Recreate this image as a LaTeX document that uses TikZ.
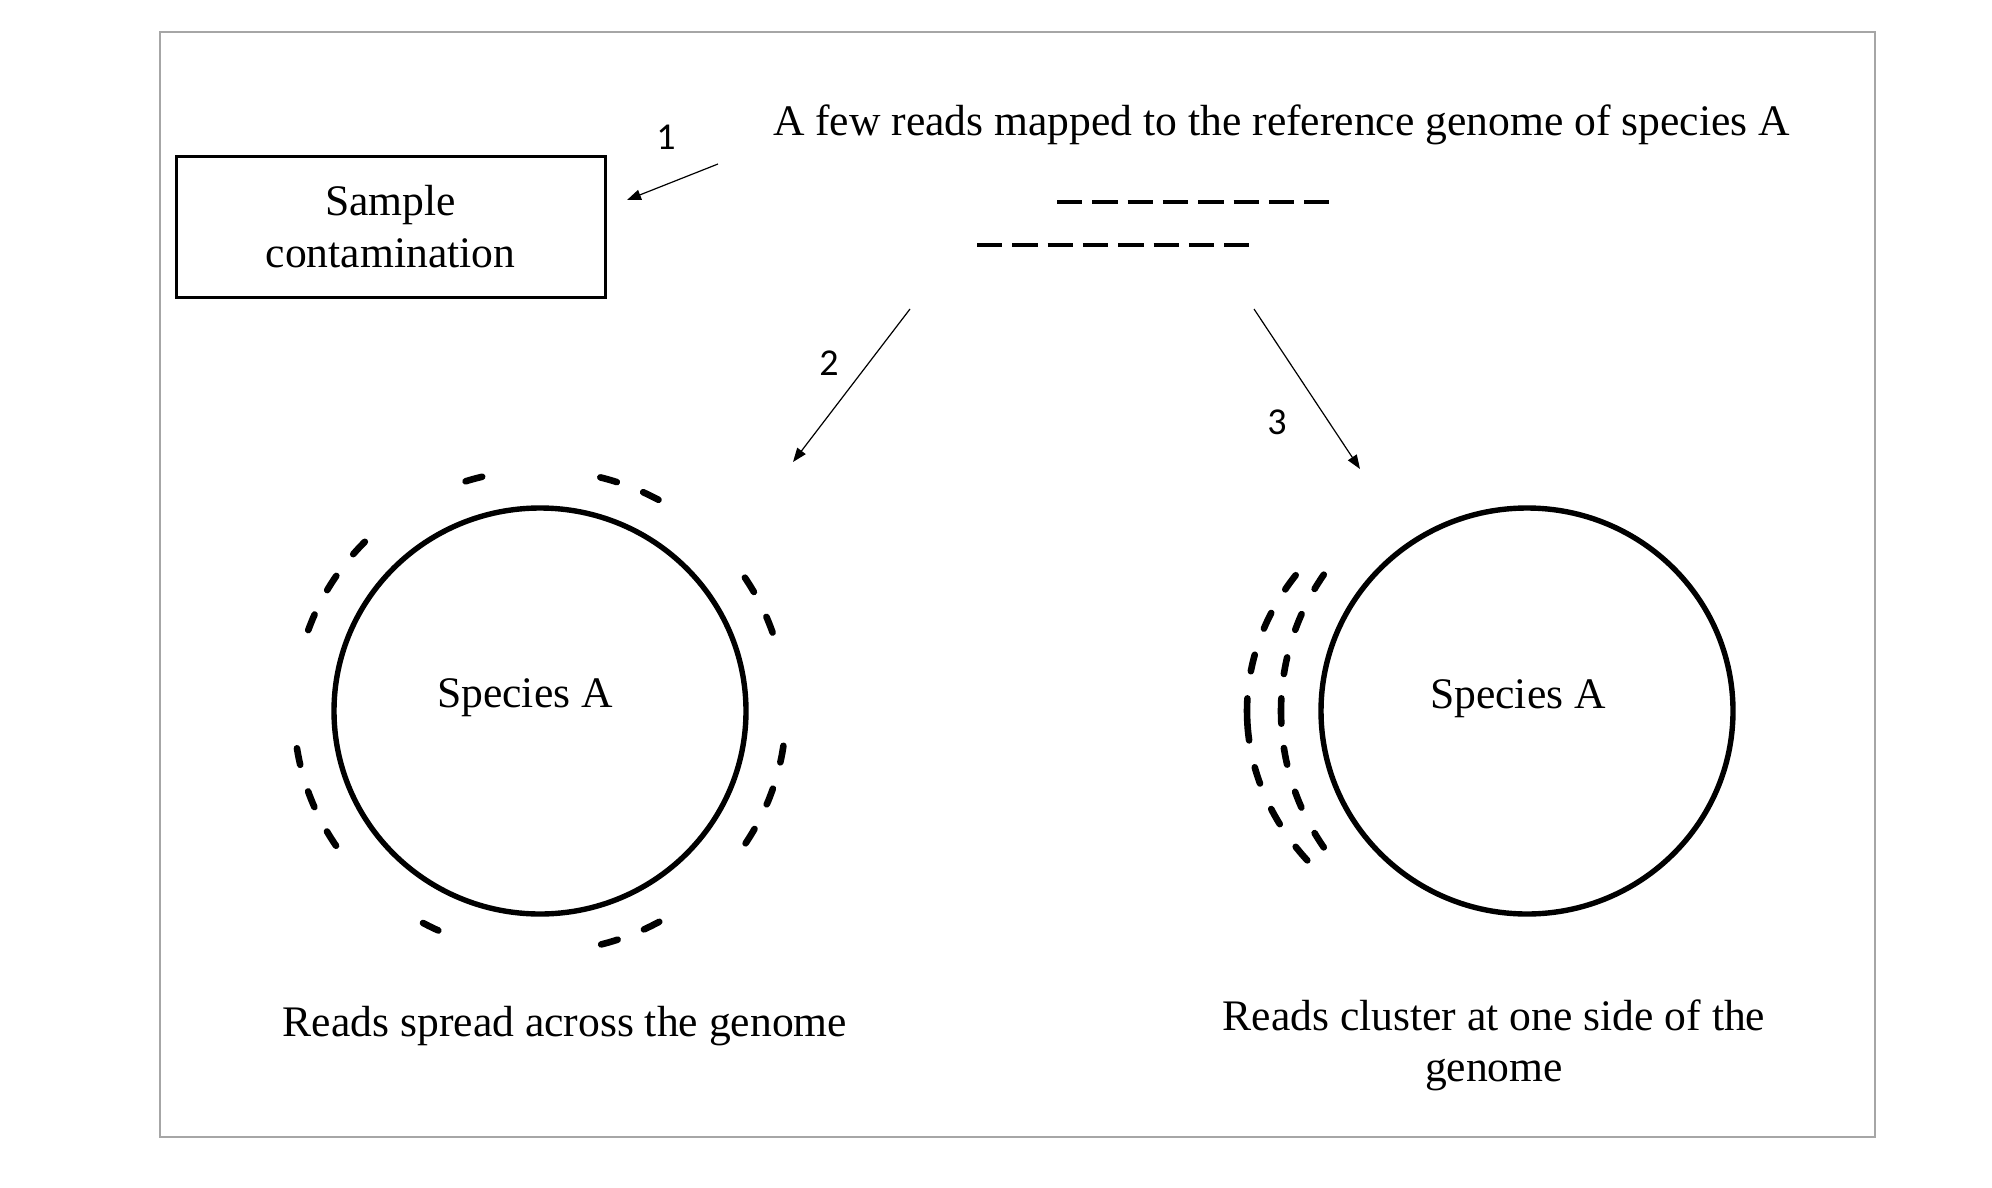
\documentclass[tikz,border=0pt]{standalone}
\usepackage{fontspec}
\setmainfont{Liberation Serif}
\newfontfamily\numfont{Carlito}
\usetikzlibrary{arrows.meta,shapes.geometric}

\begin{document}
\begin{tikzpicture}[x=0.25pt, y=-0.25pt,
    txt/.style={font=\fontsize{10.9}{12.9}\selectfont, inner sep=0pt, align=center},
    num/.style={font=\numfont\fontsize{9.5}{11}\selectfont, inner sep=0pt},
    genome/.style={draw, ellipse, line width=1.35pt, minimum width=103pt, minimum height=101.5pt, inner sep=0pt},
    read/.style={line width=1.65pt, line cap=round},
    hitline/.style={line width=0.85pt, dash pattern=on 6.33pt off 2.5pt},
    pointer/.style={line width=0.3pt, -{Triangle[length=3.5pt,width=2.6pt]}}]

    \useasboundingbox (0,0) rectangle (1992,1188);

    % Draw outer frame
    \draw[line width=0.65pt, black!35] (160,32) rectangle (1875,1137);

    % Title and the mapped reads
    \node[txt, anchor=base] (title) at (1281.5,136) {A few reads mapped to the reference genome of species A};
    \draw[hitline] (1057,202) -- (1329,202);
    \draw[hitline] (977,245) -- (1249,245);

    % Case 1: contamination
    \node[txt, draw, line width=0.75pt, minimum width=107.25pt, minimum height=35.25pt] (contam) at (390.5,226.5) {Sample\\contamination};

    % Genomes of species A
    \node[genome] (spA) at (540,711) {};
    \node[genome] (spB) at (1527,711) {};
    \node[txt, anchor=base] (labA) at ([shift={(-15,-4)}]spA.center) {Species A};
    \node[txt, anchor=base] (labB) at ([shift={(-9,-3)}]spB.center) {Species A};

    % Draw arrows with their numbers
    \coordinate (p1s) at (718,164);
    \coordinate (p1e) at (627,200);
    \coordinate (p2s) at (910,309);
    \coordinate (p2e) at (793,462);
    \coordinate (p3s) at (1254,309);
    \coordinate (p3e) at (1360,469);
    \draw[pointer] (p1s) -- (p1e);
    \draw[pointer] (p2s) -- (p2e);
    \draw[pointer] (p3s) -- (p3e);
    \node[num] (n1) at (666,137) {1};
    \node[num] (n2) at (829,363) {2};
    \node[num] (n3) at (1277,422) {3};

    % Reads spread across the genome
    \begin{scope}[shift={(spA.center)}]
      \foreach \a [evaluate=\a as \lo using \a-2, evaluate=\a as \hi using \a+2] in
          {105.6, 73.8, 63.2, 137.4, 147.9, 158.4, 31.6, 21, -10.3, -20.8, -31.3,
           190.9, 201.5, 212, 243.6, 286.4, 297} {
        \draw[read] plot[domain=\lo:\hi, samples=6] ({246*cos(\x)}, {-241*sin(\x)});
      }
    \end{scope}

    % Reads clustered at one side
    \begin{scope}[shift={(spB.center)}]
      \foreach \a/\h [evaluate=\a as \lo using \a-\h, evaluate=\a as \hi using \a+\h] in
          {147.7/2, 158.4/2, 169.2/2, 180/3, 190.8/2, 201.5/2, 212.3/2} {
        \draw[read] plot[domain=\lo:\hi, samples=6] ({246*cos(\x)}, {-242*sin(\x)});
      }
      \foreach \a/\h [evaluate=\a as \lo using \a-\h, evaluate=\a as \hi using \a+\h] in
          {147.7/2, 158/2, 168.5/2, 182/5, 195.5/2, 206/2, 216.3/2} {
        \draw[read] plot[domain=\lo:\hi, samples=8] ({280*cos(\x)}, {-241*sin(\x)});
      }
    \end{scope}

    % Captions
    \node[txt, anchor=base] (capA) at (565,1036.7) {Reads spread across the genome};
    \node[txt, anchor=base] (capB) at (1494,1081.7) {Reads cluster at one side of the\\genome};

\end{tikzpicture}
\end{document}
